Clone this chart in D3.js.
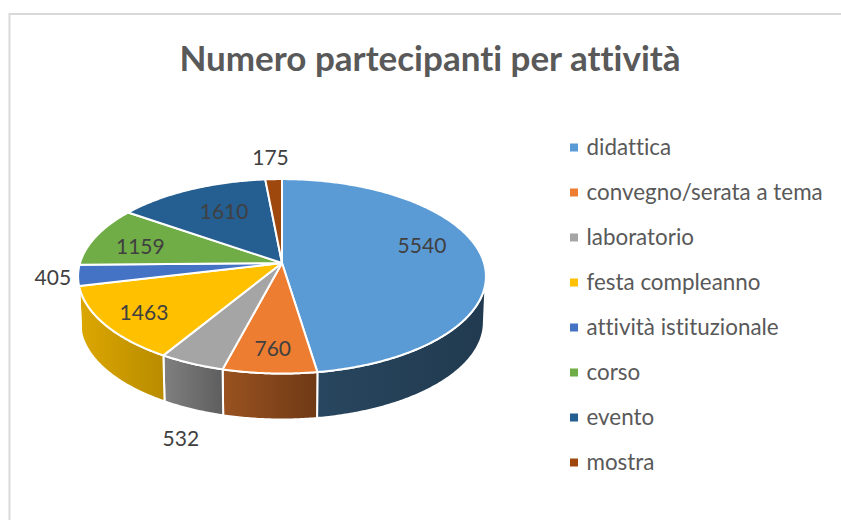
<!DOCTYPE html>
<html>
<head>
<meta charset="utf-8">
<script src="https://cdn.jsdelivr.net/npm/d3@7"></script>
<style>
  html, body { margin: 0; padding: 0; background: #fff; }
  svg { display: block; }
  text { font-family: Lato, "Open Sans", sans-serif; font-variant-ligatures: none; }
</style>
</head>
<body>
<script>
var categories = ['didattica', 'convegno/serata a tema', 'laboratorio', 'festa compleanno',
                  'attività istituzionale', 'corso', 'evento', 'mostra'];
var values = [5540, 760, 532, 1463, 405, 1159, 1610, 175];
var colors = ['#5b9bd5', '#ed7d31', '#a5a5a5', '#ffc000', '#4472c4', '#70ad47', '#255e91', '#9e480e'];
var wallLeft = ['#28465f', '#9a5220', '#808080', '#dca700', '#2f4f8a', '#4e7a31', '#1a4166', '#6e320a'];
var wallRight = ['#213a4f', '#6f3a15', '#5e5e5e', '#b98c00', '#2f4f8a', '#4e7a31', '#1a4166', '#6e320a'];

// label placement: radius factor on the slice mid angle + a nudge in px
var labelRadius = [0.7, 0.7, 1.15, 0.7, 1.15, 0.7, 0.7, 1.15];
var labelNudge = [[0, -13], [-1, 11], [5, 56], [-17, 7], [6, -1], [-10, 1], [8, 1], [-2, -12]];

var width = 841;
var height = 520;

// the tilted disc with a bit of perspective
var hubX = 282;
var hubY = 263;
var scaleX = 202;
var scaleY = 95.4;
var persp = 0.137;
var depth = 46;

var project = function(angle, r, down) {
  var u = r * Math.sin(angle);
  var v = -r * Math.cos(angle);
  var w = 1 - persp * v;
  var shrink = down ? 0.99 : 1;
  return [hubX + shrink * scaleX * u / w, hubY + scaleY * v / w + (down ? depth : 0)];
};

var arcPoints = function(a0, a1, down) {
  var n = Math.max(2, Math.ceil((a1 - a0) / 0.01));
  return d3.range(n + 1).map(function(i) {
    return project(a0 + (a1 - a0) * i / n, 1, down);
  });
};

var line = d3.line();

var svg = d3.select('body')
            .append('svg')
            .attr('width', width)
            .attr('height', height);

// chart frame, only top and left show in the picture
svg.append('path')
   .attr('d', line([[width, 14], [9.5, 14], [9.5, height]]))
   .attr('fill', 'none')
   .attr('stroke', '#d9d9d9')
   .attr('stroke-width', 2);

svg.append('text')
   .attr('x', 430)
   .attr('y', 71)
   .attr('text-anchor', 'middle')
   .attr('font-size', 35)
   .attr('font-weight', 'bold')
   .attr('fill', '#595959')
   .text('Numero partecipanti per attività');

var slices = d3.pie().sort(null)(values);

// side wall is only visible on the front part of the disc
var wallStart = 98 * Math.PI / 180;
var wallEnd = 262 * Math.PI / 180;

var defs = svg.append('defs');
var walls = svg.append('g');

slices.forEach(function(d, i) {
  var a0 = Math.max(d.startAngle, wallStart);
  var a1 = Math.min(d.endAngle, wallEnd);
  if (a1 <= a0) { return; }
  var top = arcPoints(a0, a1, false);
  var bottom = arcPoints(a0, a1, true).reverse();
  var xs = top.map(function(p) { return p[0]; });

  // walls run right to left with the angle, gradient goes left to right
  var grad = defs.append('linearGradient')
                 .attr('id', 'wall' + i)
                 .attr('gradientUnits', 'userSpaceOnUse')
                 .attr('x1', d3.min(xs))
                 .attr('x2', d3.max(xs))
                 .attr('y1', 0)
                 .attr('y2', 0);
  grad.append('stop').attr('offset', 0).attr('stop-color', wallLeft[i]);
  grad.append('stop').attr('offset', 1).attr('stop-color', wallRight[i]);

  walls.append('path')
       .attr('d', line(top.concat(bottom)) + 'Z')
       .attr('fill', 'url(#wall' + i + ')')
       .attr('stroke', '#fff')
       .attr('stroke-width', 2)
       .attr('stroke-linejoin', 'round');
});

svg.append('g')
   .selectAll('path')
   .data(slices)
   .enter()
   .append('path')
   .attr('d', function(d) {
     return line([[hubX, hubY]].concat(arcPoints(d.startAngle, d.endAngle, false))) + 'Z';
   })
   .attr('fill', function(d, i) {
     return colors[i];
   })
   .attr('stroke', '#fff')
   .attr('stroke-width', 2)
   .attr('stroke-linejoin', 'round');

svg.append('g')
   .selectAll('text')
   .data(slices)
   .enter()
   .append('text')
   .attr('x', function(d, i) {
     return project((d.startAngle + d.endAngle) / 2, labelRadius[i], false)[0] + labelNudge[i][0];
   })
   .attr('y', function(d, i) {
     return project((d.startAngle + d.endAngle) / 2, labelRadius[i], false)[1] + labelNudge[i][1];
   })
   .attr('text-anchor', 'middle')
   .attr('dominant-baseline', 'central')
   .attr('font-size', 21)
   .attr('fill', '#404040')
   .text(function(d) {
     return d.data;
   });

var legendY = d3.scalePoint()
                .domain(categories)
                .range([146.5, 461.5]);

var legend = svg.append('g')
                .selectAll('g')
                .data(categories)
                .enter()
                .append('g')
                .attr('transform', function(d) {
                  return 'translate(570,' + legendY(d) + ')';
                });

legend.append('rect')
      .attr('x', 0)
      .attr('y', -3)
      .attr('width', 8)
      .attr('height', 8)
      .attr('fill', function(d, i) {
        return colors[i];
      });

legend.append('text')
      .attr('x', 16.5)
      .attr('y', 0)
      .attr('dominant-baseline', 'central')
      .attr('font-size', 22.4)
      .attr('fill', '#595959')
      .text(function(d) {
        return d;
      });
</script>
</body>
</html>
